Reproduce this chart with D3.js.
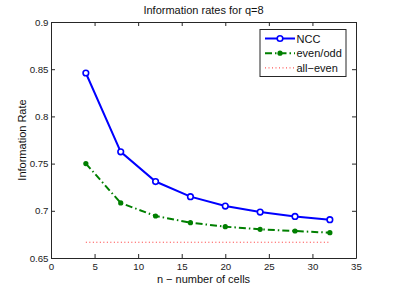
<!DOCTYPE html>
<html>
<head>
<meta charset="utf-8">
<script src="https://cdn.jsdelivr.net/npm/d3@7"></script>
<style>
  body { margin: 0; background: #fff; }
  svg { display: block; font-family: "Liberation Sans", Arial, sans-serif; }
</style>
</head>
<body>
<svg id="chart" width="393" height="291"></svg>
<script>
const nValues = [4, 8, 12, 16, 20, 24, 28, 32];
const nccRates = [0.846, 0.7625, 0.731, 0.715, 0.705, 0.6987, 0.694, 0.6906];
const evenOddRates = [0.75, 0.7083, 0.6945, 0.6874, 0.6832, 0.6804, 0.6786, 0.6768];
const allEvenN = [4, 32];
const allEvenRates = [0.6667, 0.6667];
const xTicks = [0, 5, 10, 15, 20, 25, 30, 35];
const yTicks = [0.65, 0.7, 0.75, 0.8, 0.85, 0.9];

const svg = d3.select("#chart");
const margin = { left: 51, right: 37, top: 22, bottom: 33 };
const width = 393 - margin.left - margin.right;
const height = 291 - margin.top - margin.bottom;

const x = d3.scaleLinear().domain([0, 35]).range([margin.left, margin.left + width]);
const y = d3.scaleLinear().domain([0.65, 0.9]).range([margin.top + height, margin.top]);

const axisColor = "#262626";

// axes with inward ticks, mirrored on top and right
const axisBottomG = svg.append("g")
  .attr("transform", `translate(0,${margin.top + height})`)
  .call(d3.axisBottom(x).tickValues(xTicks).tickSizeInner(-4).tickSizeOuter(0).tickPadding(5));
const axisTopG = svg.append("g")
  .attr("transform", `translate(0,${margin.top})`)
  .call(d3.axisTop(x).tickValues(xTicks).tickSizeInner(-4).tickSizeOuter(0).tickFormat(""));
const axisLeftG = svg.append("g")
  .attr("transform", `translate(${margin.left},0)`)
  .call(d3.axisLeft(y).tickValues(yTicks).tickSizeInner(-4).tickSizeOuter(0).tickPadding(2.5)
    .tickFormat((d) => String(+d.toFixed(2))));
const axisRightG = svg.append("g")
  .attr("transform", `translate(${margin.left + width},0)`)
  .call(d3.axisRight(y).tickValues(yTicks).tickSizeInner(-4).tickSizeOuter(0).tickFormat(""));

for (const g of [axisBottomG, axisTopG, axisLeftG, axisRightG]) {
  g.select(".domain").attr("stroke", axisColor).attr("stroke-width", 1);
  g.selectAll(".tick line").attr("stroke", axisColor);
  g.selectAll(".tick text").attr("fill", "#222").attr("font-size", 9.7)
    .attr("font-family", "Liberation Sans, Arial, sans-serif");
}

// title and axis labels
svg.append("text").attr("x", margin.left + width / 2).attr("y", 14)
  .attr("text-anchor", "middle").attr("font-size", 11).attr("fill", "#111")
  .text("Information rates for q=8");
svg.append("text").attr("x", margin.left + width / 2).attr("y", 283)
  .attr("text-anchor", "middle").attr("font-size", 11).attr("fill", "#111")
  .text("n − number of cells");
svg.append("text")
  .attr("transform", `translate(25.5,${margin.top + height / 2}) rotate(-90)`)
  .attr("text-anchor", "middle").attr("font-size", 11).attr("fill", "#111")
  .text("Information Rate");

const line = d3.line().x((d) => x(d[0])).y((d) => y(d[1]));

// all-even
svg.append("path")
  .datum(d3.zip(allEvenN, allEvenRates))
  .attr("d", line).attr("fill", "none")
  .attr("stroke", "#ff3030").attr("stroke-width", 1)
  .attr("stroke-dasharray", "1,2.5");

// even/odd
svg.append("path")
  .datum(d3.zip(nValues, evenOddRates))
  .attr("d", line).attr("fill", "none")
  .attr("stroke", "#007f00").attr("stroke-width", 2)
  .attr("stroke-dasharray", "7,3,1.5,3");
svg.append("g").selectAll("circle")
  .data(d3.zip(nValues, evenOddRates))
  .join("circle")
  .attr("cx", (d) => x(d[0])).attr("cy", (d) => y(d[1]))
  .attr("r", 2.6).attr("fill", "#007f00");

// NCC
svg.append("path")
  .datum(d3.zip(nValues, nccRates))
  .attr("d", line).attr("fill", "none")
  .attr("stroke", "#0000ff").attr("stroke-width", 2);
svg.append("g").selectAll("circle")
  .data(d3.zip(nValues, nccRates))
  .join("circle")
  .attr("cx", (d) => x(d[0])).attr("cy", (d) => y(d[1]))
  .attr("r", 2.8).attr("fill", "#fff").attr("stroke", "#0000ff").attr("stroke-width", 1.6);

// legend
const legend = svg.append("g").attr("transform", "translate(260,29.5)");
legend.append("rect").attr("width", 86).attr("height", 47)
  .attr("fill", "#fff").attr("stroke", axisColor).attr("stroke-width", 1);
const entries = [
  { label: "NCC", color: "#0000ff", dash: null, width: 2, marker: "open" },
  { label: "even/odd", color: "#007f00", dash: "7,3,1.5,3", width: 2, marker: "dot" },
  { label: "all−even", color: "#ff3030", dash: "1,2.5", width: 1, marker: null },
];
entries.forEach((e, i) => {
  const yy = 9 + i * 14.7;
  const ln = legend.append("line").attr("x1", 5).attr("x2", 35).attr("y1", yy).attr("y2", yy)
    .attr("stroke", e.color).attr("stroke-width", e.width);
  if (e.dash) ln.attr("stroke-dasharray", e.dash);
  if (e.marker === "open") {
    legend.append("circle").attr("cx", 20).attr("cy", yy).attr("r", 2.8)
      .attr("fill", "#fff").attr("stroke", e.color).attr("stroke-width", 1.6);
  } else if (e.marker === "dot") {
    legend.append("circle").attr("cx", 20).attr("cy", yy).attr("r", 2.6).attr("fill", e.color);
  }
  legend.append("text").attr("x", 36.5).attr("y", yy + 4)
    .attr("font-size", 11).attr("fill", "#111").text(e.label);
});
</script>
</body>
</html>
